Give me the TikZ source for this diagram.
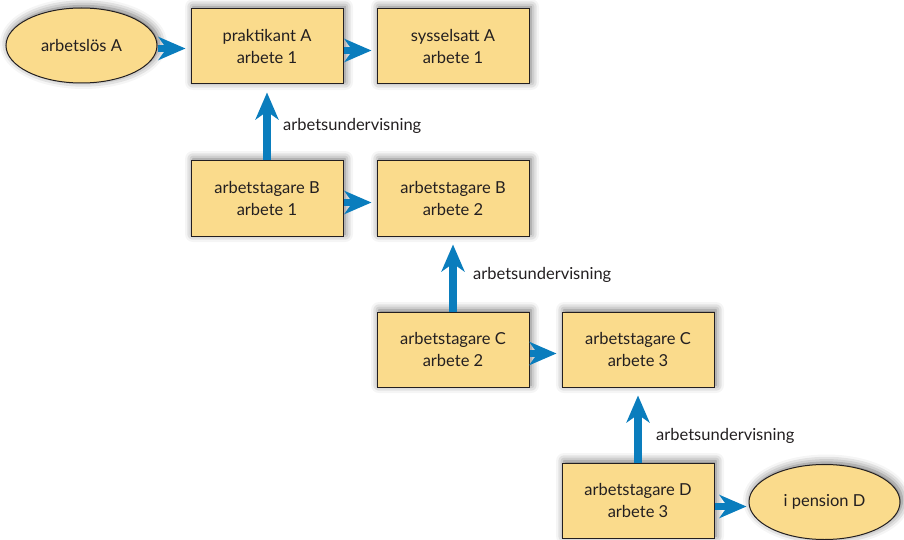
\documentclass[tikz,border=0pt]{standalone}
\usepackage{fontspec}
\setmainfont{Lato}
\usetikzlibrary{arrows.meta,shadows.blur,shapes.geometric}
\definecolor{boxfill}{HTML}{FADB8C}
\definecolor{flowblue}{HTML}{0A7DBD}
\definecolor{ink}{HTML}{231F20}
\begin{document}
\begin{tikzpicture}[x=1pt,y=-1pt,
  box/.style={draw=ink, line width=1pt, fill=boxfill, minimum width=152pt,
    minimum height=75pt, inner sep=0pt, align=center,
    font=\fontsize{16.5}{22}\selectfont, text=ink,
    blur shadow={shadow xshift=2pt, shadow yshift=2pt, shadow blur radius=8pt, shadow opacity=60}},
  oval/.style={box, ellipse, minimum width=151pt, minimum height=75pt},
  flow/.style={draw=flowblue, line width=7.5pt,
    -{Stealth[length=27pt,width=23pt,inset=8pt]}},
  hflow/.style={flow, shorten >=5pt},
  vflow/.style={flow, shorten >=8pt},
  lbl/.style={font=\fontsize{16.5}{18}\selectfont, text=ink, anchor=west, inner sep=0pt}]
\useasboundingbox (0,0) rectangle (904,540);

% nodes
\node[oval] (unemp) at (81.5,45.5) {arbetslös A};
\node[box] (pA) at (267,46.5) {praktikant A\\arbete 1};
\node[box] (sA) at (453,46.5) {sysselsatt A\\arbete 1};
\node[box] (B1) at (267,198.5) {arbetstagare B\\arbete 1};
\node[box] (B2) at (453,198.5) {arbetstagare B\\arbete 2};
\node[box] (C2) at (453,349.5) {arbetstagare C\\arbete 2};
\node[box] (C3) at (638,349.5) {arbetstagare C\\arbete 3};
\node[box] (D3) at (638,500.5) {arbetstagare D\\arbete 3};
\node[oval] (pens) at (824.5,502) {i pension D};

% horizontal transitions
\draw[hflow] ([yshift=-3pt]unemp.east) -- ([yshift=-3pt]unemp.east -| pA.west);
\draw[hflow] ([yshift=-4pt]pA.east) -- ([yshift=-4pt]sA.west);
\draw[hflow] ([yshift=-4pt]B1.east) -- ([yshift=-4pt]B2.west);
\draw[hflow] ([yshift=-4pt]C2.east) -- ([yshift=-4pt]C3.west);
\draw[flow, shorten >=2pt] ([yshift=-6pt]D3.east) -- ([yshift=-6pt]D3.east -| pens.west);

% vertical transitions
\draw[vflow] (B1.north) -- (pA.south);
\draw[vflow] (C2.north) -- (B2.south);
\draw[vflow] (D3.north) -- (C3.south);

% labels
\node[lbl] (l1) at (283,126) {arbetsundervisning};
\node[lbl] (l2) at (473,275) {arbetsundervisning};
\node[lbl] (l3) at (656,436) {arbetsundervisning};
\end{tikzpicture}
\end{document}
